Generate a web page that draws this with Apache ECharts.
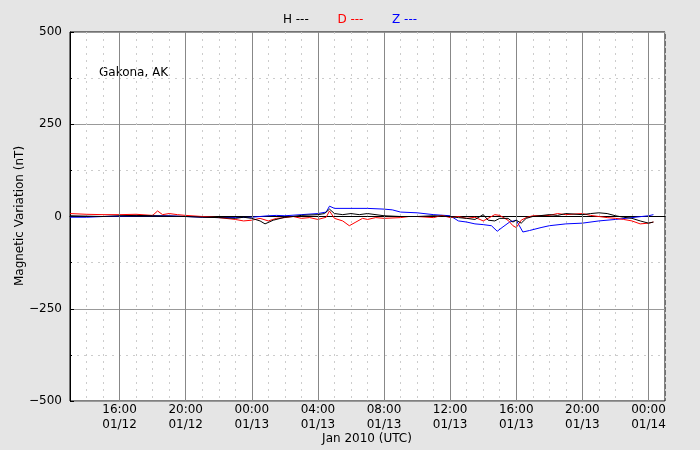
<!DOCTYPE html>
<html><head><meta charset="utf-8">
<script src="https://cdn.jsdelivr.net/npm/echarts@6/dist/echarts.min.js"></script>
<style>html,body{margin:0;padding:0;background:#e5e5e5}#c{width:700px;height:450px}</style>
</head><body><div id="c"></div>
<script>
// hours since 2010-01-12 00:00 UTC
const hTimes=[13,14,15,16,17,18,19,20,21,22,23,23.5,24,24.5,24.8,25.3,26,26.5,27,28,28.4,28.7,29,29.5,30,30.5,31,32,33,34,35,36,36.5,37,37.5,38,38.3,38.7,39,39.5,39.8,40,40.3,40.6,41,42,42.5,43,44,44.5,45,45.5,46,46.5,47,47.5,48,48.3];
const hVals=[2,1,0,2,3,2,1,0,-2,-3,-5,-2,-5,-12,-20,-10,-2,0,3,5,8,20,8,5,8,5,8,2,0,0,2,0,-3,-5,-8,5,-10,-12,-5,-5,-15,-10,-18,-5,0,5,3,8,5,8,10,8,2,-2,-5,-12,-18,-15];
const dTimes=[13,14,15,16,17,18,18.3,18.6,19,19.5,20,21,22,23,23.5,24,24.5,25,25.5,26,26.5,27,27.5,28,28.5,28.7,29,29.5,29.9,30.3,30.7,31,31.5,32,33,33.5,34,35,35.5,36,36.5,37,37.5,38,38.3,38.7,39,39.5,39.8,40,40.3,40.6,41,42,42.5,43,44,44.5,45,45.5,46,46.5,47,47.5,48,48.3];
const dVals=[8,6,5,5,6,3,15,5,8,5,3,0,-3,-8,-12,-10,-5,-12,-5,-3,0,-5,-3,-8,-2,15,-5,-12,-25,-15,-5,-8,-3,-5,-3,0,0,-3,3,-3,0,-5,-2,-12,-5,5,3,-10,-25,-30,-10,-3,2,3,8,5,8,3,0,-3,-5,-8,-12,-20,-18,-15];
const zTimes=[13,14,15,16,17,18,19,20,21,22,23,24,24.5,25,25.5,26,27,28,28.5,28.7,29,31,32,32.5,33,34,35,36,36.5,37,37.5,38,38.5,38.85,39.2,39.6,40,40.4,40.8,41.5,42,43,44,45,46,47,48,48.3];
const zVals=[-2,-2,0,1,2,2,2,0,-2,-3,-3,-2,0,2,3,2,5,8,12,28,22,22,20,18,12,10,5,2,-12,-15,-20,-22,-25,-40,-28,-15,-10,-42,-38,-30,-25,-20,-18,-12,-8,-3,2,5];
const majorX=[16,20,24,28,32,36,40,44,48];
const zip=(t,v)=>t.map((x,i)=>[x,v[i]]);
const pad=n=>String(n).padStart(2,'0');
function xLabel(v){const d=12+Math.floor(v/24);const h=v%24;return pad(h)+':00\n01/'+d;}
const chart=echarts.init(document.getElementById('c'));
chart.setOption({
  backgroundColor:'#e5e5e5',animation:false,
  textStyle:{fontFamily:'DejaVu Sans'},
  title:{text:'{h|H ---}     {d|D ---}     {z|Z ---}',left:'center',top:6,
    textStyle:{fontWeight:'normal',rich:{h:{color:'#000',fontSize:12,fontWeight:'normal',fontFamily:'DejaVu Sans'},d:{color:'#f00',fontSize:12,fontWeight:'normal',fontFamily:'DejaVu Sans'},z:{color:'#00f',fontSize:12,fontWeight:'normal',fontFamily:'DejaVu Sans'}}}},
  graphic:[
    {type:'text',left:99,top:67,style:{text:'Gakona, AK',fontSize:12,fill:'#000',fontFamily:'DejaVu Sans'}},
    {type:'text',x:367,y:439,style:{text:'Jan 2010 (UTC)',fontSize:12,fill:'#000',fontFamily:'DejaVu Sans',align:'center',verticalAlign:'middle'}},
    {type:'text',x:20,y:216,rotation:Math.PI/2,style:{text:'Magnetic Variation (nT)',fontSize:12,fill:'#000',fontFamily:'DejaVu Sans',align:'center',verticalAlign:'middle'}}
  ],
  grid:{left:70,right:35,top:32,bottom:49,containLabel:false,outerBoundsMode:'none',show:true,backgroundColor:'#fff',borderColor:'#000',borderWidth:1},
  xAxis:[{type:'value',min:13,max:49,
    axisLine:{lineStyle:{color:'#000'}},
    axisTick:{customValues:majorX,length:4,inside:true,lineStyle:{color:'#000'}},
    axisLabel:{customValues:majorX,formatter:xLabel,color:'#000',fontSize:12,lineHeight:15,margin:1},
    splitLine:{show:false}},
   {type:'value',min:13,max:49,interval:1,position:'top',axisLine:{show:false},axisTick:{show:false},axisLabel:{show:false},
    splitLine:{show:true,lineStyle:{color:'#ccc',type:[2,5]}}}],
  yAxis:{type:'value',min:-500,max:500,interval:250,
    axisLine:{show:true,lineStyle:{color:'#000'}},
    axisTick:{show:true,inside:true,length:4,lineStyle:{color:'#000'}},
    axisLabel:{color:'#000',fontSize:12,formatter:v=>String(v).replace('-','\u2212')},
    splitLine:{show:true,lineStyle:{color:'#999',width:1}},
    minorTick:{show:true,splitNumber:2,length:2},
    minorSplitLine:{show:true,lineStyle:{color:'#ccc',type:[2,5]}}},
  series:[
    {type:'line',data:zip(zTimes,zVals),showSymbol:false,lineStyle:{color:'#00f',width:1},z:3,
      markLine:{silent:true,symbol:'none',label:{show:false},lineStyle:{color:'#888',type:'solid',width:1},data:majorX.map(x=>({xAxis:x}))}},
    {type:'line',data:zip(dTimes,dVals),showSymbol:false,lineStyle:{color:'#f00',width:1},z:4},
    {type:'line',data:zip(hTimes,hVals),showSymbol:false,lineStyle:{color:'#000',width:1},z:5}
  ]
});
</script></body></html>
